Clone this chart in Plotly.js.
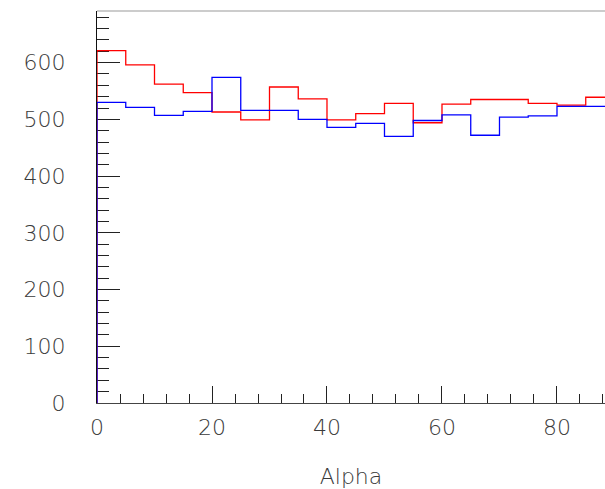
<!DOCTYPE html>
<html>
<head>
<meta charset="utf-8">
<script src="https://cdn.plot.ly/plotly-3.0.1.min.js"></script>
<style>html,body{margin:0;padding:0;background:#fff;}#chart{width:605px;height:489px;}</style>
</head>
<body>
<div id="chart"></div>
<script>
// Bin low edges (bin width 5) for the "Alpha" histograms
const binLow = [0, 5, 10, 15, 20, 25, 30, 35, 40, 45, 50, 55, 60, 65, 70, 75, 80, 85];
const binWidth = 5;
const redCounts = [621, 596, 562, 547, 513, 499, 557, 536, 499, 510, 528, 494, 527, 535, 535, 528, 525, 539];
const blueCounts = [530, 521, 507, 514, 574, 516, 516, 500, 486, 493, 470, 498, 508, 472, 504, 506, 523, 523];
const xTitle = 'Alpha';

function stepTrace(counts, color) {
  const xs = [binLow[0]];
  const ys = [0];
  binLow.forEach((lo, i) => { xs.push(lo); ys.push(counts[i]); });
  xs.push(binLow[binLow.length - 1] + binWidth);
  ys.push(counts[counts.length - 1]);
  return {
    x: xs, y: ys, type: 'scatter', mode: 'lines',
    line: {shape: 'hv', color: color, width: 1.3},
    cliponaxis: false, hoverinfo: 'skip', showlegend: false
  };
}

const tickFont = {family: 'DejaVu Sans', size: 22, color: '#3a3a3a', weight: 200};

const layout = {
  width: 605, height: 489,
  margin: {l: 97, r: 0, t: 11, b: 86},
  paper_bgcolor: '#fff', plot_bgcolor: '#fff',
  showlegend: false,
  xaxis: {
    range: [0, 88.35], showgrid: false, zeroline: false,
    showline: true, linecolor: '#444', linewidth: 1,
    ticks: 'inside', ticklen: 17, tickcolor: '#222', tickwidth: 1,
    tick0: 0, dtick: 20,
    minor: {dtick: 4, ticks: 'inside', ticklen: 9, tickcolor: '#222', tickwidth: 1, showgrid: false},
    tickfont: tickFont, ticklabelstandoff: 5,
    title: {text: xTitle, font: {family: 'DejaVu Sans', size: 22, color: '#3a3a3a', weight: 200}, standoff: 32},
    layer: 'below traces'
  },
  yaxis: {
    range: [0, 691], showgrid: false, zeroline: false,
    showline: true, linecolor: '#111', linewidth: 1,
    ticks: 'inside', ticklen: 23, tickcolor: '#222', tickwidth: 1,
    tick0: 0, dtick: 100,
    minor: {dtick: 20, ticks: 'inside', ticklen: 12, tickcolor: '#222', tickwidth: 1, showgrid: false},
    tickfont: tickFont, ticklabelstandoff: 26,
    layer: 'below traces'
  },
  shapes: [{type: 'line', xref: 'paper', yref: 'paper', x0: 0, x1: 1, y0: 1, y1: 1,
            line: {color: '#999', width: 1}}]
};

Plotly.newPlot('chart', [stepTrace(redCounts, '#ff0000'), stepTrace(blueCounts, '#0000ff')], layout, {staticPlot: true, displayModeBar: false});
</script>
</body>
</html>
